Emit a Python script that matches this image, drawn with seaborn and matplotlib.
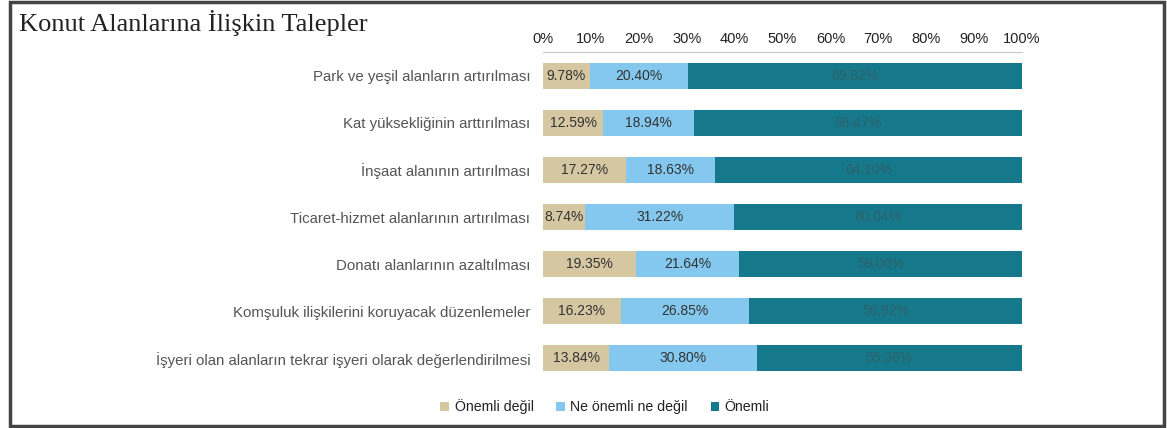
import numpy as np
import pandas as pd
import matplotlib
matplotlib.use("Agg")
import matplotlib.pyplot as plt
from matplotlib.patches import Rectangle, Patch
import seaborn as sns

# Data
categories = [
    "Park ve yeşil alanların artırılması",
    "Kat yüksekliğinin arttırılması",
    "İnşaat alanının artırılması",
    "Ticaret-hizmet alanlarının artırılması",
    "Donatı alanlarının azaltılması",
    "Komşuluk ilişkilerini koruyacak düzenlemeler",
    "İşyeri olan alanların tekrar işyeri olarak değerlendirilmesi",
]
onemli_degil = [9.78, 12.59, 17.27, 8.74, 19.35, 16.23, 13.84]
ne_onemli = [20.40, 18.94, 18.63, 31.22, 21.64, 26.85, 30.80]
onemli = [69.82, 68.47, 64.10, 60.04, 59.00, 56.92, 55.36]
series_names = ["Önemli değil", "Ne önemli ne değil", "Önemli"]
colors = ["#d6c7a3", "#84c8ef", "#16798b"]
text_colors = ["#333333", "#333333", "#2d6069"]
xticks = np.arange(0, 101, 10)

sns.set_theme(style="white")
plt.rcParams["font.family"] = ["Liberation Sans", "DejaVu Sans"]

df = pd.DataFrame({
    "cat": categories,
    "a": onemli_degil,
    "b": ne_onemli,
    "c": onemli,
})
df["ab"] = df["a"] + df["b"]
df["abc"] = df["ab"] + df["c"]

fig = plt.figure(figsize=(11.67, 4.28), dpi=100)
ax = fig.add_axes([543 / 1167, 1 - 382 / 428, 479 / 1167, 330 / 428])

# stacked bars drawn back to front
for col, c in zip(["abc", "ab", "a"], colors[::-1]):
    sns.barplot(data=df, y="cat", x=col, color=c, width=0.55,
                saturation=1, orient="h", linewidth=0, ax=ax)

segs = [df["a"].values, df["b"].values, df["c"].values]
starts = [np.zeros(len(df)), df["a"].values, df["ab"].values]
for s in range(3):
    for i in range(len(df)):
        ax.text(starts[s][i] + segs[s][i] / 2, i, f"{segs[s][i]:.2f}%",
                ha="center", va="center", fontsize=10, color=text_colors[s])

ax.set_xlim(0, 100)
ax.set_ylim(6.5, -0.5)
ax.set_xlabel("")
ax.set_ylabel("")
ax.xaxis.tick_top()
ax.set_xticks(xticks)
ax.set_xticklabels([f"{t}%" for t in xticks])
ax.tick_params(axis="x", length=0, pad=4.5, labelsize=10.5, labelcolor="#222222")
ax.tick_params(axis="y", length=0, pad=9, labelsize=10.8, labelcolor="#555555")
for side in ["left", "right", "bottom"]:
    ax.spines[side].set_visible(False)
ax.spines["top"].set_color("#c8c8c8")
ax.spines["top"].set_linewidth(0.8)

fig.text(19 / 1167, 1 - 23 / 428, "Konut Alanlarına İlişkin Talepler",
         family=["Liberation Serif", "DejaVu Serif"], fontsize=19,
         color="#222222", va="center", ha="left")

handles = [Patch(facecolor=c, edgecolor="none") for c in colors]
fig.legend(handles, series_names, loc="center",
           bbox_to_anchor=(605 / 1167, 1 - 407 / 428), ncol=3, frameon=False,
           fontsize=10.2, handlelength=0.6, handleheight=0.6, handletextpad=0.4,
           columnspacing=1.6, labelcolor="#222222")

# outer frame
fig.patches.append(Rectangle((10 / 1167, 2 / 428), 1154 / 1167, 424 / 428,
                             transform=fig.transFigure, fill=False,
                             edgecolor="#444444", linewidth=2.5))

fig.savefig("out.png", dpi=100)
